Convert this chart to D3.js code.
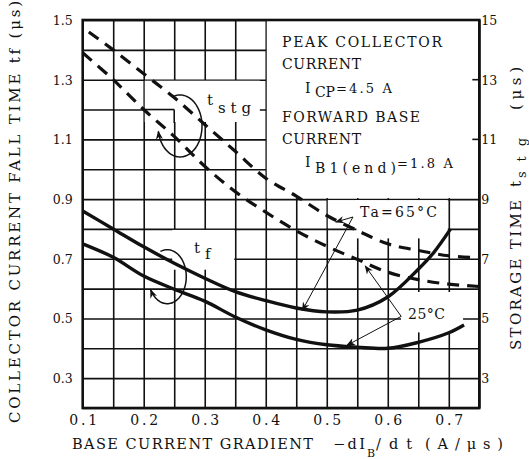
<!DOCTYPE html>
<html><head><meta charset="utf-8">
<script src="https://cdn.jsdelivr.net/npm/d3@7"></script>
<style>body{margin:0;background:#fff}svg{display:block}</style>
</head><body><svg id="c" width="529" height="459"></svg>
<script>
// ---------- data ----------
const xGrid = [0.1,0.15,0.2,0.25,0.3,0.35,0.4,0.45,0.5,0.55,0.6,0.65,0.7,0.75];
const yGrid = [0.2,0.3,0.4,0.5,0.6,0.7,0.8,0.9,1.0,1.1,1.2,1.3,1.4,1.5];
const xTickLabels = [0.1,0.2,0.3,0.4,0.5,0.6,0.7];
const yLeftTicks = [0.3,0.5,0.7,0.9,1.1,1.3,1.5];
const yRightTicks = [3,5,7,9,11,13,15];

// fall time tf (µs), left axis
const tf65X = [0.1,0.15,0.2,0.25,0.3,0.35,0.4,0.45,0.5,0.55,0.6,0.65,0.675,0.703];
const tf65  = [0.86,0.80,0.74,0.685,0.635,0.59,0.56,0.535,0.522,0.528,0.572,0.665,0.72,0.80];
const tf25X = [0.1,0.15,0.2,0.25,0.3,0.35,0.4,0.45,0.5,0.55,0.6,0.65,0.7,0.725];
const tf25  = [0.75,0.705,0.642,0.598,0.558,0.505,0.462,0.43,0.412,0.404,0.40,0.42,0.452,0.478];
// storage time tstg (µs), right axis
const ts65X = [0.11,0.15,0.2,0.25,0.3,0.35,0.4,0.45,0.5,0.55,0.6,0.65,0.7,0.75];
const ts65  = [14.6,14.0,13.2,12.4,11.5,10.6,9.7,9.1,8.45,7.95,7.5,7.28,7.1,7.03];
const ts25X = [0.1,0.15,0.2,0.25,0.3,0.35,0.4,0.45,0.5,0.55,0.6,0.65,0.7,0.75];
const ts25  = [13.9,13.0,12.0,11.1,10.1,9.25,8.56,7.94,7.42,6.98,6.55,6.3,6.15,6.07];

// ---------- layout ----------
const F = "DejaVu Serif";
const INK = "#111";
const svg = d3.select("#c");
const x  = d3.scaleLinear().domain([0.1,0.75]).range([82.7,479.3]);
const yL = d3.scaleLinear().domain([0.2,1.5]).range([408,20]);
const yR = d3.scaleLinear().domain([2,15]).range([408,20]);
const X0=x(0.1), X1=x(0.75), Y0=yL(0.2), Y1=yL(1.5);

// grid
svg.append("g").attr("transform",`translate(0,${Y0})`)
  .call(d3.axisBottom(x).tickValues(xGrid).tickSize(-(Y0-Y1)).tickFormat(""))
  .call(g=>{g.select(".domain").remove();g.selectAll("line").attr("stroke",INK).attr("stroke-width",1.6);});
svg.append("g").attr("transform",`translate(${X0},0)`)
  .call(d3.axisLeft(yL).tickValues(yGrid).tickSize(-(X1-X0)).tickFormat(""))
  .call(g=>{g.select(".domain").remove();g.selectAll("line").attr("stroke",INK).attr("stroke-width",1.6);});

// cleared (blank) areas of the grid
const clear = [
  {x0:0.4,  x1:0.75, y0:0.9,  y1:1.5},
  {x0:0.2,  x1:0.392,y0:1.155,y1:1.3},
  {x0:0.245,x1:0.35, y0:0.66, y1:0.8},
  {x0:0.5,  x1:0.56, y0:0.8,  y1:0.9},
  {x0:0.547,x1:0.7,  y0:0.765,y1:0.9},
  {x0:0.62, x1:0.725,y0:0.45, y1:0.592}
];
svg.append("g").selectAll("rect").data(clear).join("rect")
  .attr("x",d=>x(d.x0)+1).attr("y",d=>yL(d.y1)+1)
  .attr("width",d=>x(d.x1)-x(d.x0)-2).attr("height",d=>yL(d.y0)-yL(d.y1)-2)
  .attr("fill","#fff");
// grid pieces that remain inside cleared areas
const keep = [
  {xa:0.2,xb:0.25,ya:1.2,yb:1.2},
  {xa:0.25,xb:0.25,ya:1.2,yb:1.155}
];
svg.append("g").selectAll("line").data(keep).join("line")
  .attr("x1",d=>x(d.xa)).attr("x2",d=>x(d.xb)).attr("y1",d=>yL(d.ya)).attr("y2",d=>yL(d.yb))
  .attr("stroke",INK).attr("stroke-width",1.6);
// inward ticks on right border inside box
svg.append("g").selectAll("line").data([11,13]).join("line")
  .attr("x1",X1-7).attr("x2",X1).attr("y1",d=>yR(d)).attr("y2",d=>yR(d))
  .attr("stroke",INK).attr("stroke-width",1.6);

// frame
svg.append("rect").attr("x",X0).attr("y",Y1).attr("width",X1-X0).attr("height",Y0-Y1)
  .attr("fill","none").attr("stroke",INK).attr("stroke-width",2.6);

// tick labels
svg.append("g").attr("transform",`translate(0,${Y0})`)
  .call(d3.axisBottom(x).tickValues(xTickLabels).tickSize(0).tickFormat(d3.format(".1f")))
  .call(g=>{g.select(".domain").remove();
    g.selectAll("text").attr("y",17).attr("dy",0).attr("font-family",F).attr("font-size",14)
     .attr("fill",INK).attr("textLength",28).attr("lengthAdjust","spacing");});
svg.append("g").attr("transform",`translate(${X0},0)`)
  .call(d3.axisLeft(yL).tickValues(yLeftTicks).tickSize(0).tickPadding(10).tickFormat(d3.format(".1f")))
  .call(g=>{g.select(".domain").remove();
    g.selectAll("text").attr("dy","0.36em").attr("font-family",F).attr("font-size",12.5).attr("fill",INK);});
svg.append("g").attr("transform",`translate(${X1},0)`)
  .call(d3.axisRight(yR).tickValues(yRightTicks).tickSize(0).tickPadding(2).tickFormat(d3.format("d")))
  .call(g=>{g.select(".domain").remove();
    g.selectAll("text").attr("dy","0.36em").attr("font-family",F).attr("font-size",12.5).attr("fill",INK);});

// curves
const lineL = d3.line().x(d=>x(d[0])).y(d=>yL(d[1])).curve(d3.curveCatmullRom);
const lineR = d3.line().x(d=>x(d[0])).y(d=>yR(d[1])).curve(d3.curveCatmullRom);
const zip=(a,b)=>a.map((v,i)=>[v,b[i]]);
svg.append("path").attr("d",lineL(zip(tf65X,tf65))).attr("fill","none").attr("stroke",INK).attr("stroke-width",3.4);
svg.append("path").attr("d",lineL(zip(tf25X,tf25))).attr("fill","none").attr("stroke",INK).attr("stroke-width",3.4);
svg.append("path").attr("d",lineR(zip(ts65X,ts65))).attr("fill","none").attr("stroke",INK).attr("stroke-width",3.2).attr("stroke-dasharray","12,8");
svg.append("path").attr("d",lineR(zip(ts25X,ts25))).attr("fill","none").attr("stroke",INK).attr("stroke-width",3.2).attr("stroke-dasharray","12,8");

// arrow marker
const defs=svg.append("defs");
defs.append("marker").attr("id","ah").attr("viewBox","0 0 10 10").attr("refX",9).attr("refY",5)
  .attr("markerWidth",9).attr("markerHeight",9).attr("markerUnits","userSpaceOnUse").attr("orient","auto")
  .append("path").attr("d","M0,1 L10,5 L0,9 L3,5 Z").attr("fill",INK);

// designator loops
function loop(cx,cy,rx,ry,a0,a1){
  const pts=d3.range(a0,a1+0.1,2).map(a=>{const t=a*Math.PI/180;return [cx+rx*Math.cos(t),cy+ry*Math.sin(t)];});
  svg.append("path").attr("d",d3.line().curve(d3.curveBasis)(pts)).attr("fill","none")
    .attr("stroke",INK).attr("stroke-width",1.5).attr("marker-end","url(#ah)");
}
loop(x(0.2595),yL(1.145),22,31,-110,170);
loop(x(0.2386),yL(0.64),19,27,-111,152);

// leader lines
const leaders=[
  {fx:0.543,fy:0.84,tx:0.515,ty:0.823},
  {fx:0.543,fy:0.84,tx:0.46,ty:0.527},
  {fx:0.622,fy:0.507,tx:0.563,ty:0.676},
  {fx:0.622,fy:0.507,tx:0.533,ty:0.41}
];
svg.append("g").selectAll("line").data(leaders).join("line")
  .attr("x1",d=>x(d.fx)).attr("y1",d=>yL(d.fy)).attr("x2",d=>x(d.tx)).attr("y2",d=>yL(d.ty))
  .attr("stroke",INK).attr("stroke-width",1).attr("marker-end","url(#ah)");

// text helper
function T(s,px,py,size,len,g){
  const t=(g||svg).append("text").attr("x",px).attr("y",py).attr("font-family",F)
    .attr("font-size",size).attr("fill",INK).text(s);
  if(len) t.attr("textLength",len).attr("lengthAdjust","spacing");
  return t;
}
// box text
T("PEAK COLLECTOR",282,47,14,160);
T("CURRENT",282,68.5,14,79);
T("I",305,93,14); T("CP",315,97,14,20); T("=4.5 A",336,93,13,56);
T("FORWARD BASE",282,122,14,138);
T("CURRENT",282,143.5,14,79);
T("I",305,167,14); T("B1(end)",315,173,14,81); T("=1.8 A",397,168,13,56);

// curve labels
T("t",207,105,15); T("stg",218,113,15,33);
T("t",194,253,15); T("f",205,259,15);
T("Ta=65°C",360,217,14,77);
T("25°C",408,319,14,37);

// axis titles
T("BASE CURRENT GRADIENT",72,449,14.5,241);
T("\u2212dI",333,449,14.5,32); T("B",367,456.5,11); T("/dt",376,449,14.5,36); T("(A/\u03bcs)",425,449,14.5,78);

const gl=svg.append("g").attr("transform","translate(20,0) rotate(-90)");
T("COLLECTOR CURRENT FALL TIME  tf (\u03bcs)",-423,0,15,422,gl);

const gr=svg.append("g").attr("transform","translate(521,0) rotate(-90)");
T("STORAGE TIME",-350,0,15,150,gr);
T("t",-187,0,15,null,gr); T("stg",-178,5,13,40,gr);
T("(\u03bcs)",-110,0,15,43,gr);
</script></body></html>
